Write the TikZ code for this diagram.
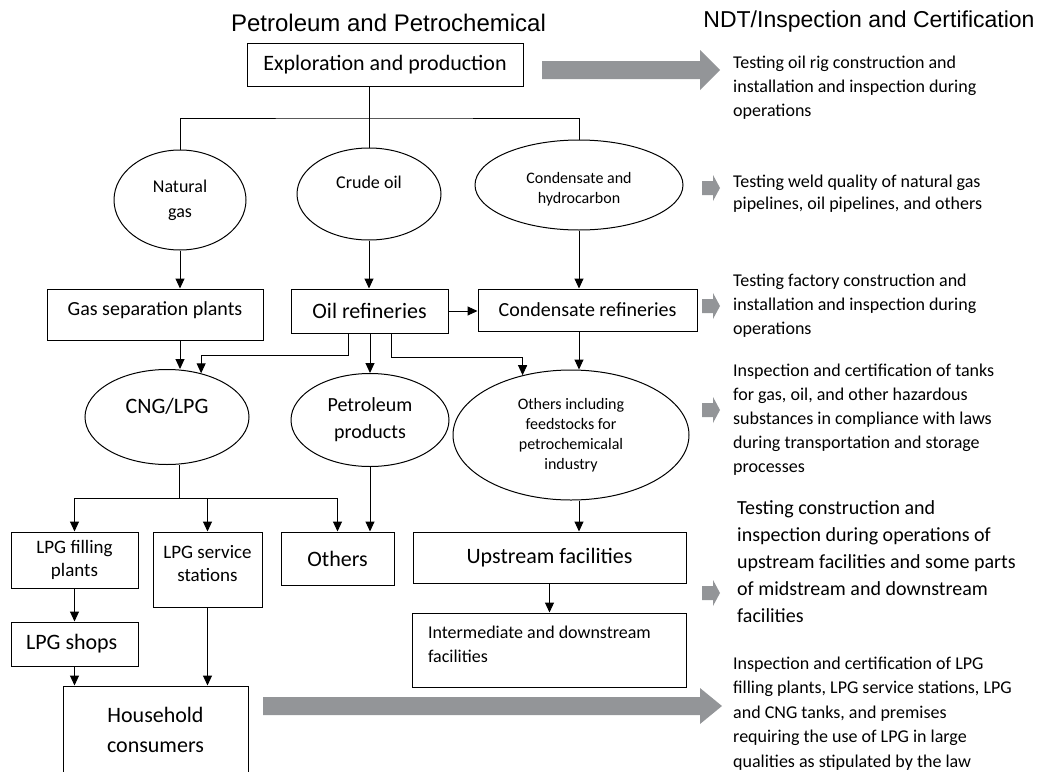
\documentclass[tikz,border=0pt]{standalone}
\usepackage{fontspec}
\setmainfont{Carlito}
\newfontfamily\headfont{Liberation Sans}
\usetikzlibrary{arrows.meta, shapes.geometric}

\definecolor{arrowgray}{RGB}{147,149,152}
\newcommand{\fsz}[2]{\fontsize{#1}{#2}\selectfont}
% small grey arrow in front of a note
\newcommand{\smallarr}[1]{\fill [arrowgray] (702, #1-7) -- (713, #1-7) -- (713, #1-13) -- (720, #1) -- (713, #1+13) -- (713, #1+7) -- (702, #1+7) -- cycle;}

\tikzset{
	box/.style = {draw, line width=1pt, inner sep=0pt},
	oval/.style = {draw, ellipse, line width=1pt, inner sep=0pt},
	link/.style = {draw, line width=1pt},
	arr/.style = {link, -{Triangle[length=10pt, width=9pt]}},
	note/.style = {anchor=west, align=left, inner sep=0pt}
}

\begin{document}
\begin{tikzpicture}[x=1pt, y=-1pt]
	\path [use as bounding box] (0, 0) rectangle (1044, 771);
	\clip (0, 0) rectangle (1044, 771);
	
	% titles
	\node [font=\headfont\fsz{24}{28}] (lefttitle) at (388.5, 22.5) {Petroleum and Petrochemical};
	\node [font=\headfont\fsz{23}{28}] (righttitle) at (869, 22) {NDT/Inspection and Certification};
	
	% modules
	\node [box, minimum width=276, minimum height=43, font=\fsz{22}{26}] (explore) at (385, 64.5) {Exploration and production};
	
	\node [oval, minimum width=132, minimum height=100, align=center, font=\fsz{18}{25}] (natgas) at (180, 200) {Natural\\gas};
	\node [oval, minimum width=144, minimum height=92, label={[font=\fsz{18}{22}, yshift=12pt]center:Crude oil}] (crude) at (369, 194) {};
	\node [oval, minimum width=208, minimum height=90, label={[align=center, font=\fsz{16}{20}, yshift=-4pt]center:Condensate and\\hydrocarbon}] (cond) at (579, 185) {};
	
	\node [box, minimum width=216, minimum height=51, label={[font=\fsz{20}{24}, yshift=4pt]center:Gas separation plants}] (gassep) at (155, 314.5) {};
	\node [box, minimum width=157, minimum height=44, font=\fsz{22}{26}] (oilref) at (369.5, 311) {Oil refineries};
	\node [box, minimum width=219, minimum height=42, font=\fsz{20}{24}] (condref) at (587.5, 310) {Condensate refineries};
	
	\node [oval, minimum width=164, minimum height=95, label={[font=\fsz{22}{26}, yshift=11pt]center:CNG/LPG}] (cnglpg) at (167, 417) {};
	\node [oval, minimum width=158, minimum height=93, align=center, font=\fsz{20}{27}] (petprod) at (370, 420) {Petroleum\\products};
	\node [oval, minimum width=236, minimum height=130, align=center, font=\fsz{16}{20}] (othinc) at (571, 435) {Others including\\feedstocks for\\petrochemicalal\\industry};
	
	\node [box, minimum width=127, minimum height=56, align=center, font=\fsz{19}{23}] (lpgfill) at (74.5, 560) {LPG filling\\plants};
	\node [box, minimum width=109, minimum height=75, label={[align=center, font=\fsz{19}{23}, yshift=6pt]center:LPG service\\stations}] (lpgserv) at (207.5, 569.5) {};
	\node [box, minimum width=113, minimum height=53, font=\fsz{22}{26}] (others) at (337.5, 558.5) {Others};
	\node [box, minimum width=273, minimum height=51, font=\fsz{22}{26}] (upstream) at (549.5, 557.5) {Upstream facilities};
	\node [box, minimum width=274, minimum height=74, label={[anchor=west, align=left, font=\fsz{18}{24}, xshift=13pt, yshift=6pt]west:Intermediate and downstream\\facilities}] (interm) at (549, 650) {};
	\node [box, minimum width=127, minimum height=44, label={[anchor=west, font=\fsz{22}{26}, xshift=12pt]west:LPG shops}] (lpgshop) at (74.5, 644) {};
	\node [box, minimum width=185, minimum height=114, label={[align=center, font=\fsz{22}{30}, yshift=13pt]center:Household\\consumers}] (household) at (155.5, 743) {};
	
	% lines
	\coordinate (fork) at (369, 118);
	\coordinate (split) at (179, 498);
	\draw [link] (explore.south -| crude.north) -- (crude.north);
	\draw [link] (natgas.north) |- (fork) -| (cond.north);
	
	\draw [arr] (natgas.south) -- (natgas.south |- gassep.north);
	\draw [arr] (crude.south) -- (crude.south |- oilref.north);
	\draw [arr] (cond.south) -- (cond.south |- condref.north);
	\draw [arr] (oilref.east) -- (oilref.east -| condref.west);
	
	\draw [arr] (natgas.south |- gassep.south) -- (natgas.south |- cnglpg.north);
	\draw [arr] ([xshift=-21.5pt]oilref.south) |- ([yshift=18pt]cnglpg.52) -- (cnglpg.52);
	\draw [arr] (oilref.south -| petprod.north) -- (petprod.north);
	\draw [arr] ([xshift=21.5pt]oilref.south) |- ([yshift=18pt]othinc.129) -- (othinc.129);
	\draw [arr] (condref.south -| cond.south) -- (cond.south |- othinc.north);
	
	\draw [link] (cnglpg.south -| split) -- (split);
	\draw [arr] (split) -| (lpgfill.north);
	\draw [arr] (split) -| (lpgserv.north);
	\draw [arr] (split) -| (others.north);
	\draw [arr] (petprod.south) -- (petprod.south |- others.north);
	\draw [arr] (othinc.south -| cond.south) -- (cond.south |- upstream.north);
	\draw [arr] (upstream.south) -- (upstream.south |- interm.north);
	
	\draw [arr] (lpgfill.south) -- (lpgshop.north);
	\draw [arr] (lpgshop.south) -- (lpgshop.south |- household.north);
	\draw [arr] (lpgserv.south) -- (lpgserv.south |- household.north);
	
	% grey arrows
	\fill [arrowgray] (542, 61) -- (700, 61) -- (700, 50) -- (720, 70) -- (700, 90) -- (700, 79) -- (542, 79) -- cycle;
	\fill [arrowgray] (263, 697) -- (700, 697) -- (700, 688) -- (722, 706) -- (700, 724) -- (700, 715) -- (263, 715) -- cycle;
	\smallarr{188}
	\smallarr{306}
	\smallarr{410}
	\smallarr{593}
	
	% notes
	\node [note, font=\fsz{18}{24}] (note1) at (733, 87.5) {Testing oil rig construction and\\installation and inspection during\\operations};
	\node [note, font=\fsz{18}{22}] (note2) at (733, 194) {Testing weld quality of natural gas\\pipelines, oil pipelines, and others};
	\node [note, font=\fsz{18}{24}] (note3) at (733, 305.5) {Testing factory construction and\\installation and inspection during\\operations};
	\node [note, font=\fsz{18}{24}] (note4) at (733, 419.5) {Inspection and certification of tanks\\for gas, oil, and other hazardous\\substances in compliance with laws\\during transportation and storage\\processes};
	\node [note, font=\fsz{20}{27}] (note5) at (737, 561.5) {Testing construction and\\inspection during operations of\\upstream facilities and some parts\\of midstream and downstream\\facilities};
	\node [note, font=\fsz{18}{24.5}] (note6) at (733, 713.5) {Inspection and certification of LPG\\filling plants, LPG service stations, LPG\\and CNG tanks, and premises\\requiring the use of LPG in large\\qualities as stipulated by the law};
\end{tikzpicture}
\end{document}
